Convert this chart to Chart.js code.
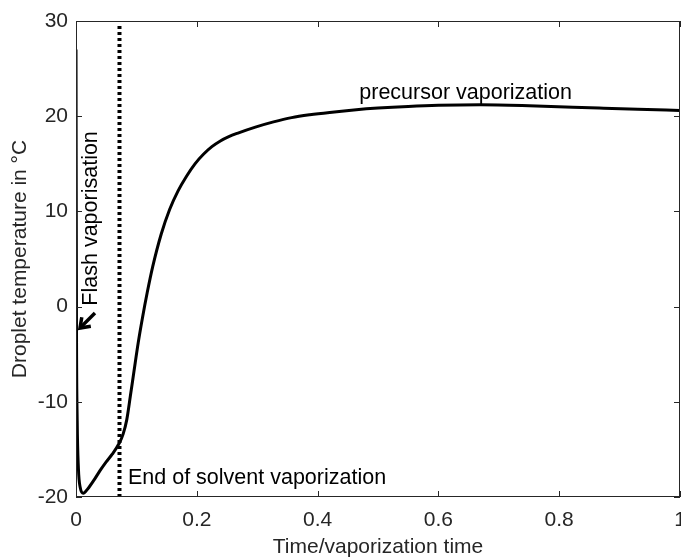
<!DOCTYPE html>
<html><head><meta charset="utf-8">
<script src="https://cdn.jsdelivr.net/npm/chart.js@4"></script>
<style>html,body{margin:0;padding:0;background:#fff}#wrap{width:681px;height:558px}</style>
</head><body><div id="wrap"><canvas id="c" width="681" height="558"></canvas></div>
<script>
// ---- data ----
const timeRatio   = [0, 0.0008, 0.002, 0.004, 0.007, 0.012, 0.02, 0.03, 0.04, 0.05, 0.06, 0.072, 0.078, 0.084, 0.09, 0.096, 0.103, 0.11, 0.118, 0.127, 0.141, 0.155, 0.169, 0.183, 0.197, 0.211, 0.225, 0.239, 0.253, 0.267, 0.297, 0.327, 0.357, 0.387, 0.42, 0.46, 0.5, 0.55, 0.6, 0.67, 0.75, 0.866, 0.93, 1.0];
const dropletTemp = [27, -2, -12, -17, -19, -19.6, -19.1, -18.2, -17.2, -16.3, -15.5, -14.3, -13.4, -11.9, -9.4, -6.8, -3.8, -1.2, 1.5, 4.2, 7.6, 10.2, 12.16, 13.7, 15.0, 16.0, 16.8, 17.4, 17.85, 18.2, 18.85, 19.4, 19.85, 20.15, 20.4, 20.65, 20.85, 21.03, 21.15, 21.2, 21.1, 20.85, 20.72, 20.6];
const solventEndTime = [0.072, 0.072];
const solventEndTemp = [-20, 29.6];
const xTickLabels = ['0', '0.2', '0.4', '0.6', '0.8', '1'];
const yTickLabels = ['-20', '-10', '0', '10', '20', '30'];
const annotationTexts = ['precursor vaporization', 'End of solvent vaporization', 'Flash vaporisation'];

const FONT = "'Liberation Sans', Arial, Helvetica, sans-serif";
const AX = '#262626';

const curve = timeRatio.map((t, i) => ({x: t, y: dropletTemp[i]}));
const endLine = solventEndTime.map((t, i) => ({x: t, y: solventEndTemp[i]}));

const boxPlugin = {
  id: 'boxAndNotes',
  afterDatasetsDraw(chart) {
    const {ctx, chartArea: a, scales: {x, y}} = chart;
    ctx.save();
    // axes box
    ctx.strokeStyle = AX; ctx.lineWidth = 1;
    ctx.strokeRect(Math.round(a.left) + 0.5, Math.round(a.top) + 0.5, Math.round(a.right - a.left) - 1, Math.round(a.bottom - a.top) - 1);
    // inward ticks
    const L = 6;
    ctx.beginPath();
    x.ticks.forEach(t => {
      const px = Math.round(x.getPixelForValue(t.value)) + 0.5;
      ctx.moveTo(px, a.bottom); ctx.lineTo(px, a.bottom - L);
      ctx.moveTo(px, a.top); ctx.lineTo(px, a.top + L);
    });
    y.ticks.forEach(t => {
      const py = Math.round(y.getPixelForValue(t.value)) + 0.5;
      ctx.moveTo(a.left, py); ctx.lineTo(a.left + L, py);
      ctx.moveTo(a.right, py); ctx.lineTo(a.right - L, py);
    });
    ctx.stroke();

    // annotations
    ctx.fillStyle = '#000';
    ctx.font = '21.5px ' + FONT;
    ctx.textBaseline = 'alphabetic';
    ctx.textAlign = 'left';
    ctx.fillText(annotationTexts[0], x.getPixelForValue(0.469), y.getPixelForValue(21.8));
    ctx.fillText(annotationTexts[1], x.getPixelForValue(0.086), y.getPixelForValue(-18.63));
    ctx.save();
    ctx.translate(x.getPixelForValue(0.0347), y.getPixelForValue(0.1));
    ctx.rotate(-Math.PI / 2);
    ctx.fillText(annotationTexts[2], 0, 0);
    ctx.restore();

    // arrow
    const tx = x.getPixelForValue(0.0314), ty = y.getPixelForValue(-0.67);
    const hx = x.getPixelForValue(0.0066), hy = y.getPixelForValue(-2.25);
    const ang = Math.atan2(hy - ty, hx - tx);
    ctx.strokeStyle = '#000'; ctx.lineWidth = 3.5; ctx.lineCap = 'butt'; ctx.lineJoin = 'miter';
    ctx.beginPath(); ctx.moveTo(tx, ty); ctx.lineTo(hx, hy); ctx.stroke();
    const hl = 11, sp = 0.62;
    ctx.beginPath();
    ctx.moveTo(hx - hl * Math.cos(ang - sp), hy - hl * Math.sin(ang - sp));
    ctx.lineTo(hx, hy);
    ctx.lineTo(hx - hl * Math.cos(ang + sp), hy - hl * Math.sin(ang + sp));
    ctx.stroke();
    ctx.restore();
  }
};

new Chart(document.getElementById('c'), {
  type: 'line',
  data: {
    datasets: [
      {data: curve, borderColor: '#000', borderWidth: 3, pointRadius: 0, cubicInterpolationMode: 'monotone', fill: false, order: 1},
      {data: endLine, borderColor: '#000', borderWidth: 4, borderDash: [3, 3], borderCapStyle: 'butt', pointRadius: 0, fill: false, clip: false, order: 2}
    ]
  },
  options: {
    responsive: false,
    devicePixelRatio: 1,
    animation: false,
    events: [],
    layout: {padding: {top: 21, right: 1, left: 0, bottom: 0}},
    plugins: {legend: {display: false}, tooltip: {enabled: false}},
    scales: {
      x: {
        type: 'linear', min: 0, max: 1,
        afterBuildTicks: s => { s.ticks = xTickLabels.map(l => ({value: parseFloat(l)})); },
        afterFit: s => { s.height = 61; s.paddingLeft = 0; s.paddingRight = 0; },
        grid: {display: false, drawTicks: false},
        border: {display: false},
        ticks: {color: AX, font: {family: FONT, size: 21}, padding: 11, maxRotation: 0, autoSkip: false,
          callback: (v) => xTickLabels[xTickLabels.map(parseFloat).indexOf(v)]},
        title: {display: true, text: 'Time/vaporization time', color: AX, font: {family: FONT, size: 21, lineHeight: 1}, padding: 0}
      },
      y: {
        type: 'linear', min: -20, max: 30,
        afterBuildTicks: s => { s.ticks = yTickLabels.map(l => ({value: parseFloat(l)})); },
        afterFit: s => { s.width = 76; s.paddingTop = 0; s.paddingBottom = 0; },
        grid: {display: false, drawTicks: false},
        border: {display: false},
        ticks: {color: AX, font: {family: FONT, size: 21}, padding: 8, autoSkip: false,
          callback: (v) => yTickLabels[yTickLabels.map(parseFloat).indexOf(v)]},
        title: {display: true, text: 'Droplet temperature in °C', color: AX, font: {family: FONT, size: 21, lineHeight: 1}, padding: 10}
      }
    }
  },
  plugins: [boxPlugin]
});
</script></body></html>
